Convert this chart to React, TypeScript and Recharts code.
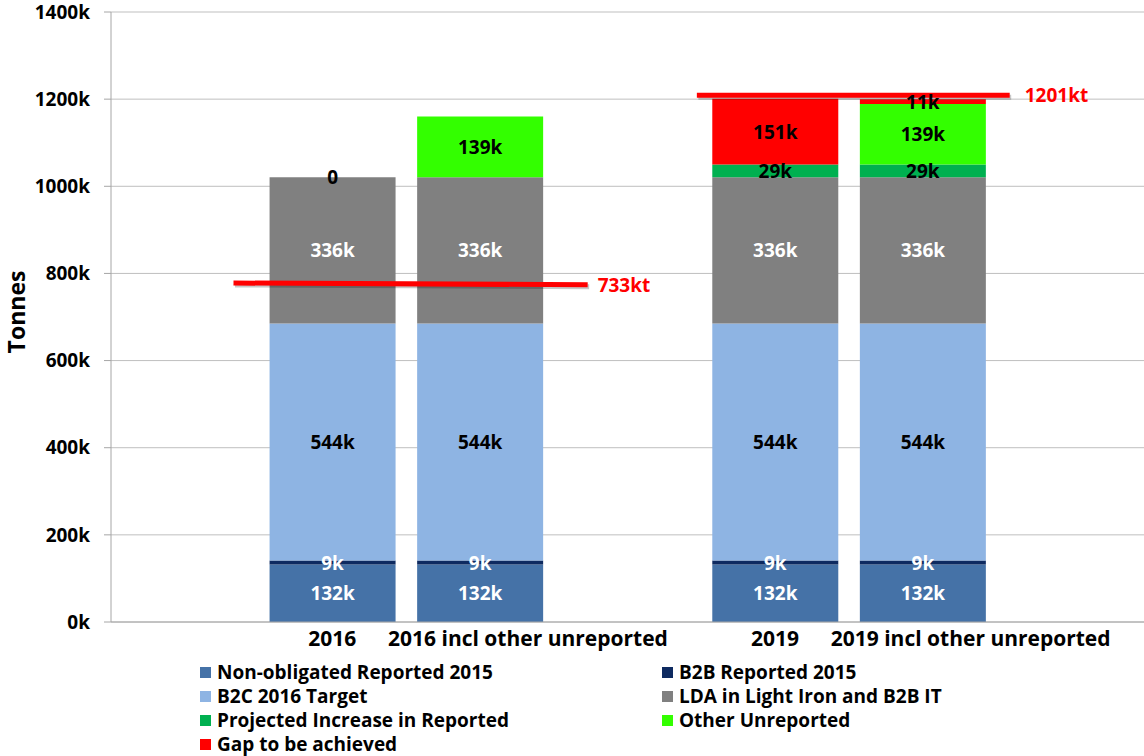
import React from "react";
import {
  ComposedChart,
  Bar,
  XAxis,
  YAxis,
  CartesianGrid,
  LabelList,
  ReferenceLine,
  ReferenceDot,
  Legend,
} from "recharts";

const categories = ["", "2016", "2016 incl other unreported", "", "2019", "2019 incl other unreported", ""];
const nonObligated = [null, 132, 132, null, 132, 132, null];
const b2bReported = [null, 9, 9, null, 9, 9, null];
const b2cTarget = [null, 544, 544, null, 544, 544, null];
const ldaLightIron = [null, 336, 336, null, 336, 336, null];
const projectedIncrease = [null, null, null, null, 29, 29, null];
const otherUnreported = [null, 0, 139, null, null, 139, null];
const gapToAchieve = [null, null, null, null, 151, 11, null];
const yTicks = [0, 200, 400, 600, 800, 1000, 1200, 1400];

// target lines (x in category units on a hidden numeric axis, y in kt)
const target2016 = { x1: 0.83, x2: 3.23, y1: 778, y2: 774, label: "733kt" };
const target2019 = { x1: 3.97, x2: 6.09, y1: 1209, y2: 1209, label: "1201kt" };
const targets = [target2016, target2019];
const targetLabelOffsets = [10, 15];

const series = [
  { key: "nonObligated", name: "Non-obligated Reported 2015", color: "#4572A7", text: "#ffffff", values: nonObligated },
  { key: "b2bReported", name: "B2B Reported 2015", color: "#0E2A60", text: "#ffffff", values: b2bReported },
  { key: "b2cTarget", name: "B2C 2016 Target", color: "#8EB4E3", text: "#000000", values: b2cTarget },
  { key: "ldaLightIron", name: "LDA in Light Iron and B2B IT", color: "#808080", text: "#ffffff", values: ldaLightIron },
  { key: "projectedIncrease", name: "Projected Increase in Reported", color: "#00B050", text: "#000000", values: projectedIncrease },
  { key: "otherUnreported", name: "Other Unreported", color: "#33FF00", text: "#000000", values: otherUnreported },
  { key: "gapToAchieve", name: "Gap to be achieved", color: "#FF0000", text: "#000000", values: gapToAchieve },
];

const data = categories.map((c, i) => {
  const row: any = { name: c, slot: i + 0.5, idx: i };
  series.forEach((s) => {
    row[s.key] = s.values[i];
  });
  return row;
});

const FONT = "'Open Sans', 'Liberation Sans', sans-serif";

const labelText = (x: number, y: number, txt: string, color: string, key?: string) => (
  <text
    key={key}
    x={x}
    y={y}
    textAnchor="middle"
    dominantBaseline="central"
    fill={color}
    fontFamily={FONT}
    fontWeight={700}
    fontSize={19}
  >
    {txt}
  </text>
);

// zero-valued segments sitting on top of series k (drawn at its top edge)
const zeroAbove = (k: number, i: number) => {
  const out: number[] = [];
  for (let j = k + 1; j < series.length; j++) {
    const v = series[j].values[i];
    if (v === 0) out.push(j);
    else if (v !== null && v !== undefined) return [];
  }
  return out;
};

const makeLabel = (k: number) => (props: any) => {
  const { x, y, width, height, value } = props;
  if (value === null || value === undefined) return null;
  const s = series[k];
  const i = value.idx;
  const v = s.values[i];
  if (v === null || v === undefined || v === 0) return null;
  const cx = x + width / 2;
  const extra = zeroAbove(k, i);
  return (
    <g>
      {labelText(cx, y + height / 2, `${v}k`, s.text)}
      {extra.map((j) => labelText(cx, y, "0", series[j].text, "z" + j))}
    </g>
  );
};

const XTick = (props: any) => {
  const { x, y, payload } = props;
  const v: string = payload.value;
  if (!v) return null;
  const shift = v.length > 10 ? 48 : 0;
  return (
    <text
      x={x + shift}
      y={y + 24}
      textAnchor="middle"
      fill="#000"
      fontFamily={FONT}
      fontWeight={700}
      fontSize={21}
    >
      {v}
    </text>
  );
};

const LegendContent = () => (
  <div
    style={{
      height: 96,
      display: "grid",
      gridTemplateColumns: "462px 420px",
      gridAutoRows: "24px",
      paddingLeft: 200,
      paddingTop: 0,
      fontFamily: FONT,
      fontWeight: 700,
      fontSize: 19,
      color: "#000",
      boxSizing: "border-box",
    }}
  >
    {series.map((s) => (
      <div key={s.key} style={{ display: "flex", alignItems: "center", whiteSpace: "nowrap" }}>
        <span style={{ display: "inline-block", width: 11, height: 11, background: s.color, marginRight: 6 }} />
        <span>{s.name}</span>
      </div>
    ))}
  </div>
);

const TonnesLabel = () => (
  <text
    x={16}
    y={312}
    transform="rotate(-90, 16, 312)"
    textAnchor="middle"
    dominantBaseline="central"
    fill="#000"
    fontFamily={FONT}
    fontWeight={700}
    fontSize={23}
  >
    Tonnes
  </text>
);

export default function App() {
  return (
    <div style={{ position: "absolute", left: 0, top: 0, width: 1144, height: 756, background: "#fff" }}>
      <ComposedChart
        width={1144}
        height={756}
        data={data}
        margin={{ top: 12, right: 0, bottom: 0, left: 0 }}
        barSize={126}
      >
        <CartesianGrid vertical={false} stroke="#BFBFBF" />
        <XAxis
          dataKey="name"
          xAxisId="cat"
          height={38}
          tickLine={false}
          tickSize={0}
          tickMargin={0}
          axisLine={{ stroke: "#A6A6A6" }}
          tick={<XTick />}
          interval={0}
        />
        <XAxis xAxisId="num" dataKey="slot" type="number" domain={[0, 7]} hide allowDataOverflow />
        <YAxis
          width={111}
          domain={[0, 1400]}
          ticks={yTicks}
          tickFormatter={(v: number) => `${v}k`}
          tick={{ fill: "#000", fontFamily: FONT, fontWeight: 700, fontSize: 19 }}
          tickSize={7}
          tickMargin={14}
          tickLine={{ stroke: "#A6A6A6" }}
          axisLine={{ stroke: "#A6A6A6" }}
          allowDataOverflow
          label={<TonnesLabel />}
        />
        {series.map((s, k) => (
          <Bar
            key={s.key}
            dataKey={s.key}
            name={s.name}
            stackId="a"
            xAxisId="cat"
            fill={s.color}
            isAnimationActive={false}
          >
            <LabelList dataKey={(row: any) => row} content={makeLabel(k)} />
          </Bar>
        ))}
        {targets.map((t, i) => (
          <ReferenceLine
            key={"s" + i}
            xAxisId="num"
            segment={[
              { x: t.x1, y: t.y1 },
              { x: t.x2, y: t.y2 },
            ]}
            stroke="#000000"
            strokeOpacity={0.22}
            strokeWidth={5}
            transform="translate(1.5, 2)"
            ifOverflow="visible"
          />
        ))}
        {targets.map((t, i) => (
          <ReferenceLine
            key={"l" + i}
            xAxisId="num"
            segment={[
              { x: t.x1, y: t.y1 },
              { x: t.x2, y: t.y2 },
            ]}
            stroke="#FF0000"
            strokeWidth={5}
            ifOverflow="visible"
          />
        ))}
        {targets.map((t, i) => (
          <ReferenceDot
            key={"d" + i}
            xAxisId="num"
            x={t.x2}
            y={t.y2}
            r={0}
            stroke="none"
            fill="none"
            ifOverflow="visible"
            label={{
              value: t.label,
              position: "right",
              offset: targetLabelOffsets[i],
              fill: "#FF0000",
              fontFamily: FONT,
              fontWeight: 700,
              fontSize: 19,
            }}
          />
        ))}
        <Legend verticalAlign="bottom" align="left" content={<LegendContent />} wrapperStyle={{ height: 96 }} />
      </ComposedChart>
    </div>
  );
}
